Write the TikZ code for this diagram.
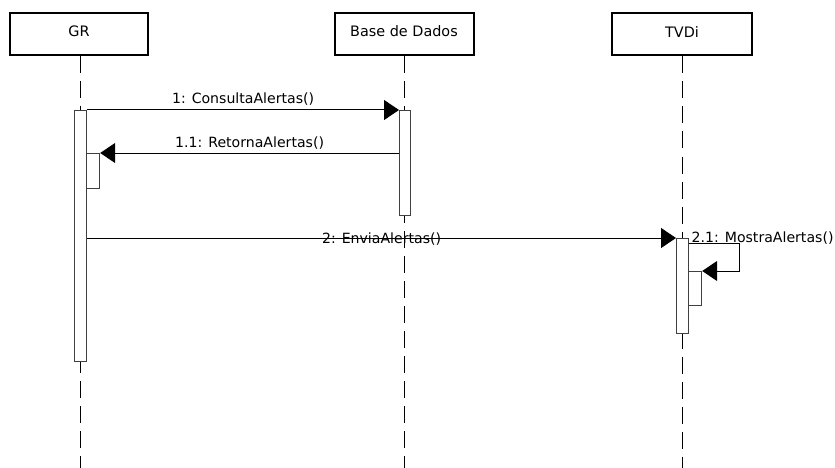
\documentclass[tikz,border=0pt]{standalone}
\usepackage{fontspec}
\setmainfont{DejaVu Sans}
\usetikzlibrary{arrows.meta}
\begin{document}
\begin{tikzpicture}[x=1pt,y=-1pt,
  participant/.style={draw=black,line width=2pt,fill=white,rectangle,inner sep=0pt,
    minimum height=42pt,text height=10.5pt,text depth=5pt,font=\fontsize{14.4}{15}\selectfont},
  lifeline/.style={draw=black,line width=1pt,dash pattern=on 17pt off 8pt},
  activation/.style={draw=black!75,line width=1.2pt,fill=white,rectangle,inner sep=0pt,
    minimum width=12pt,anchor=north west},
  msg/.style={draw=black,line width=1pt,-{Triangle[length=15pt,width=20pt]}},
  msglabel/.style={font=\fontsize{14.1}{15}\selectfont,inner sep=0pt,anchor=base}]
\useasboundingbox (0,0) rectangle (835,468);

% participants
\node[participant,minimum width=138pt] (gr) at (79,34) {GR};
\node[participant,minimum width=139pt] (bd) at (404,34) {Base de Dados};
\node[participant,minimum width=140pt] (tv) at (682,34.5) {TVDi};

% lifelines down to the bottom edge
\coordinate (grEnd) at (80,468);
\coordinate (bdEnd) at (404.5,468);
\coordinate (tvEnd) at (682,468);
\draw[lifeline] (gr.south -| grEnd) -- (grEnd);
\draw[lifeline] (bd.south -| bdEnd) -- (bdEnd);
\draw[lifeline] (tv.south -| tvEnd) -- (tvEnd);

% activation bars
\node[activation,minimum height=251pt] (actGR) at (74,110) {};
\node[activation,minimum height=105pt,minimum width=11pt] (actBD) at (399,110) {};
\node[activation,minimum height=95pt] (actTV) at (676,238) {};
\node[activation,minimum height=35pt,minimum width=13pt] (nestGR) at (86,153) {};
\node[activation,minimum height=34pt,minimum width=13pt] (nestTV) at (688,271) {};

% messages
\draw[msg] (actGR.north east) -- node[msglabel,yshift=6pt] {1: ConsultaAlertas()} (actBD.north west);
\draw[msg] (nestGR.north east -| actBD.west) -- node[msglabel,yshift=6pt] {1.1: RetornaAlertas()} (nestGR.north east);
\draw[msg] (actTV.north west -| actGR.east) -- node[msglabel,yshift=-5pt] {2: EnviaAlertas()} (actTV.north west);
\coordinate (selfTurn) at (739,243);
\draw[msg] (actTV.east |- selfTurn)
  node[msglabel,anchor=base west,xshift=2pt,yshift=1pt] {2.1: MostraAlertas()}
  -- (selfTurn) |- (nestTV.north east);
\end{tikzpicture}
\end{document}
